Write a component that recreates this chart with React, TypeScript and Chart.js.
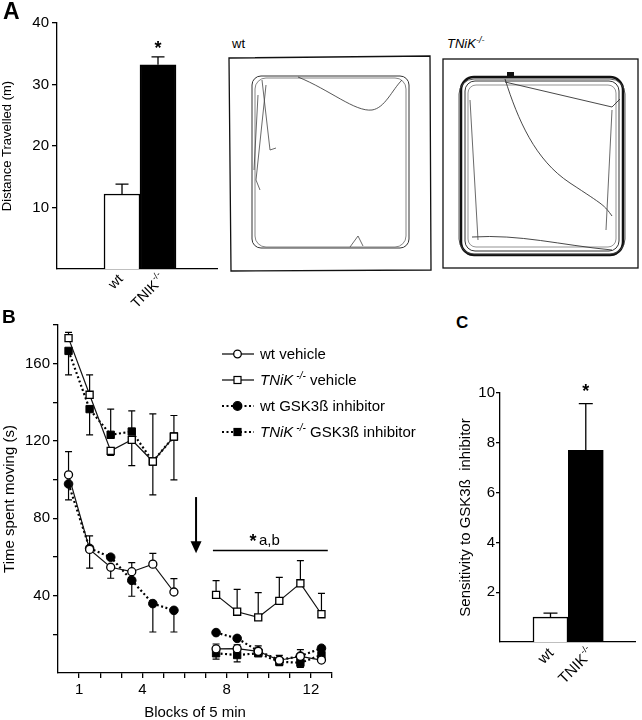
import React, { useEffect, useRef } from "react";
import { Chart, registerables } from "chart.js";

Chart.register(...registerables);

const FONT = "'Liberation Sans', Arial, Helvetica, sans-serif";

// ---------- Panel A : distance travelled ----------
const distanceGroups = ["wt", "TNIK"];
const distanceSup = ["", "-/-"];
const distanceMean = [12.2, 33.2];
const distanceSem = [1.6, 1.3];
const distanceTicks = [10, 20, 30, 40];

// ---------- Panel B : time spent moving ----------
const blockPos = [0.5, 1.5, 2.5, 3.5, 4.5, 5.5, 6.5, 7.5, 8.5, 9.5, 10.5, 11.5, 12.5];
const blockTickLabels = [1, 4, 8, 12];
const movingTickLabels = [40, 80, 120, 160];

const wtVehicle = [102.5, 63.9, 54.7, 52.4, 56.3, 41.9, null, 12.5, 12.6, 11.2, 6.6, 8.6, 6.7];
const wtVehicleUp = [12.0, 7.0, null, 4.7, 5.6, 6.9, null, 2.5, 2.0, 2.8, 2.5, 3.5, null];
const wtVehicleDown = [null, null, 5.7, null, null, null, null, null, null, null, null, null, null];

const tnikVehicle = [173.2, 143.9, 114.9, 120.6, 109.4, 122.3, null, 40.4, 31.7, 28.8, 37.3, 46.4, 30.4];
const tnikVehicleUp = [3.0, 10.3, null, null, 24.6, 10.9, null, 7.4, 11.6, 12.8, 12.2, 11.7, 10.8];
const tnikVehicleDown = [null, null, 2.4, 13.3, null, null, null, null, null, null, null, null, null];

const wtInhibitor = [97.8, 64.5, 59.9, 47.9, 35.9, 32.4, null, 20.9, 17.9, 11.4, 6.7, 8.8, 12.8];
const wtInhibitorUp = [null, null, null, null, null, null, null, null, null, null, null, null, null];
const wtInhibitorDown = [8.3, 10.3, null, 8.2, 14.7, 11.2, null, null, null, 2.0, null, null, null];

const tnikInhibitor = [166.6, 136.5, 123.2, 124.9, 109.4, 122.3, null, 10.2, 9.3, 10.2, 5.8, 5.3, 9.3];
const tnikInhibitorUp = [null, null, 13.3, 10.7, null, null, null, null, null, null, null, null, null];
const tnikInhibitorDown = [12.4, 13.3, null, null, 17.3, 22.4, null, 3.0, 3.5, null, 2.0, 2.4, null];

const treatmentArrow = { x: 6.55, from: 91, to: 62 };
const sigBar = { from: 7.35, to: 12.8, y: 63.3, star: 9.25, label: "a,b" };

// ---------- Panel C : sensitivity ----------
const sensGroups = ["wt", "TNIK"];
const sensSup = ["", "-/-"];
const sensMean = [1.0, 7.7];
const sensSem = [0.16, 1.87];
const sensTicks = [2, 4, 6, 8, 10];

function rotLabel(ctx: CanvasRenderingContext2D, x: number, y: number, main: string, sup: string, size: number) {
  ctx.save();
  ctx.translate(x, y);
  ctx.rotate(-Math.PI / 4);
  ctx.fillStyle = "#000";
  ctx.textBaseline = "middle";
  ctx.textAlign = "right";
  let end = 0;
  if (sup) {
    ctx.font = `${Math.round(size * 0.62)}px ${FONT}`;
    ctx.fillText(sup, 0, -size * 0.38);
    end = -ctx.measureText(sup).width - 0.5;
  }
  ctx.font = `${size}px ${FONT}`;
  ctx.fillText(main, end, 0);
  ctx.restore();
}

function barConfig(o: any): any {
  const extras = {
    id: "barExtras",
    afterDatasetsDraw(chart: any) {
      const { ctx, scales } = chart;
      const x = scales.x, y = scales.y;
      ctx.save();
      ctx.strokeStyle = "#000";
      ctx.lineWidth = 1.3;
      o.means.forEach((m: number, i: number) => {
        const px = x.getPixelForValue(i + 1);
        const y0 = y.getPixelForValue(m);
        const y1 = y.getPixelForValue(m + o.sems[i]);
        ctx.beginPath();
        ctx.moveTo(px, y0);
        ctx.lineTo(px, y1);
        ctx.moveTo(px - o.cap, y1);
        ctx.lineTo(px + o.cap, y1);
        ctx.stroke();
      });
      const last = o.means.length - 1;
      const sx = x.getPixelForValue(last + 1);
      const sy = y.getPixelForValue(o.means[last] + o.sems[last]) - o.starGap;
      ctx.fillStyle = "#000";
      ctx.font = `bold 18px ${FONT}`;
      ctx.textAlign = "center";
      ctx.textBaseline = "alphabetic";
      ctx.fillText("*", sx, sy);
      const base = y.getPixelForValue(0);
      o.labels.forEach((lab: string, i: number) => {
        rotLabel(ctx, x.getPixelForValue(i + 1) + o.labelDx[i], base + o.labelDy, lab, o.sups[i], o.labelSize);
      });
      ctx.restore();
    },
  };
  return {
    type: "bar",
    data: {
      datasets: [
        {
          data: o.means.map((v: number, i: number) => ({ x: i + 1, y: v })),
          backgroundColor: ["#ffffff", "#000000"],
          borderColor: "#000",
          borderWidth: 1.5,
          barThickness: o.barW,
        },
      ],
    },
    options: {
      animation: false,
      responsive: false,
      events: [],
      layout: { padding: { top: o.padTop, right: o.padRight, left: 0, bottom: 0 } },
      plugins: { legend: { display: false }, tooltip: { enabled: false } },
      scales: {
        x: {
          type: "linear",
          min: o.xMin,
          max: o.xMax,
          offset: false,
          grid: { display: false },
          border: { display: true, color: "#000", width: 1.3 },
          ticks: { display: false },
          afterFit: (s: any) => { s.height = o.xHeight; },
        },
        y: {
          type: "linear",
          min: 0,
          max: o.yMax,
          ticks: {
            stepSize: o.step,
            color: "#000",
            padding: o.tickPad,
            font: { size: o.tickSize },
            callback: (v: any) => (o.ticks.includes(v) ? String(v) : ""),
          },
          afterBuildTicks: (s: any) => { s.ticks = s.ticks.filter((t: any) => t.value !== 0); },
          grid: { drawOnChartArea: false, drawTicks: true, tickLength: o.tickLen, color: "#000", lineWidth: 1.3 },
          border: { display: true, color: "#000", width: 1.3 },
          title: {
            display: true,
            text: o.title,
            color: "#000",
            font: { size: o.titleSize, lineHeight: 1.2 },
            padding: { top: o.titlePad, bottom: 0 },
          },
          afterFit: (s: any) => { s.width = o.yWidth; },
        },
      },
    },
    plugins: [extras],
  };
}

function lineConfig(): any {
  const mk = (label: string, vals: (number | null)[], up: (number | null)[], down: (number | null)[], style: any) => ({
    label,
    data: blockPos.map((x, i) => ({ x, y: vals[i] })),
    errUp: up,
    errDown: down,
    ...style,
  });
  const solid = { borderColor: "#111", borderWidth: 1.2, pointBorderColor: "#000", pointBackgroundColor: "#fff", pointBorderWidth: 1.3 };
  const dotted = { borderColor: "#000", borderWidth: 2.2, borderDash: [2, 2.5], pointBorderColor: "#000", pointBackgroundColor: "#000", pointBorderWidth: 1 };
  const datasets = [
    mk("wt vehicle", wtVehicle, wtVehicleUp, wtVehicleDown, { ...solid, pointStyle: "circle", pointRadius: 4 }),
    mk("TNiK-/- vehicle", tnikVehicle, tnikVehicleUp, tnikVehicleDown, { ...solid, pointStyle: "rect", pointRadius: 5 }),
    mk("wt GSK3ß inhibitor", wtInhibitor, wtInhibitorUp, wtInhibitorDown, { ...dotted, pointStyle: "circle", pointRadius: 4.3 }),
    mk("TNiK-/- GSK3ß inhibitor", tnikInhibitor, tnikInhibitorUp, tnikInhibitorDown, { ...dotted, pointStyle: "rect", pointRadius: 5.2 }),
  ];
  const errPlugin = {
    id: "errBars",
    beforeDatasetsDraw(chart: any) {
      const { ctx, scales } = chart;
      const x = scales.x, y = scales.y;
      ctx.save();
      ctx.strokeStyle = "#000";
      ctx.lineWidth = 1.2;
      chart.data.datasets.forEach((ds: any) => {
        blockPos.forEach((bx, i) => {
          const v = ds.data[i].y;
          if (v == null) return;
          const px = x.getPixelForValue(bx);
          const p0 = y.getPixelForValue(v);
          [[ds.errUp[i], 1], [ds.errDown[i], -1]].forEach(([e, dir]) => {
            if (e == null) return;
            const p1 = y.getPixelForValue(v + dir * e);
            ctx.beginPath();
            ctx.moveTo(px, p0);
            ctx.lineTo(px, p1);
            ctx.moveTo(px - 3.5, p1);
            ctx.lineTo(px + 3.5, p1);
            ctx.stroke();
          });
        });
      });
      ctx.restore();
    },
    afterDatasetsDraw(chart: any) {
      const { ctx, scales } = chart;
      const x = scales.x, y = scales.y;
      ctx.save();
      ctx.strokeStyle = "#000";
      ctx.fillStyle = "#000";
      const ax = x.getPixelForValue(treatmentArrow.x);
      const a0 = y.getPixelForValue(treatmentArrow.from);
      const a1 = y.getPixelForValue(treatmentArrow.to);
      ctx.lineWidth = 2;
      ctx.beginPath();
      ctx.moveTo(ax, a0);
      ctx.lineTo(ax, a1 - 10);
      ctx.stroke();
      ctx.beginPath();
      ctx.moveTo(ax - 5.5, a1 - 12);
      ctx.lineTo(ax + 5.5, a1 - 12);
      ctx.lineTo(ax, a1);
      ctx.closePath();
      ctx.fill();
      const sy = y.getPixelForValue(sigBar.y);
      ctx.lineWidth = 1.5;
      ctx.beginPath();
      ctx.moveTo(x.getPixelForValue(sigBar.from), sy);
      ctx.lineTo(x.getPixelForValue(sigBar.to), sy);
      ctx.stroke();
      const stx = x.getPixelForValue(sigBar.star);
      ctx.textBaseline = "alphabetic";
      ctx.textAlign = "center";
      ctx.font = `bold 18px ${FONT}`;
      ctx.fillText("*", stx, sy - 4);
      ctx.textAlign = "left";
      ctx.font = `15px ${FONT}`;
      ctx.fillText(sigBar.label, stx + 6, sy - 6);
      ctx.restore();
    },
  };
  return {
    type: "line",
    data: { datasets },
    options: {
      animation: false,
      responsive: false,
      events: [],
      layout: { padding: { top: 25, right: 8, left: 0, bottom: 0 } },
      plugins: { legend: { display: false }, tooltip: { enabled: false } },
      scales: {
        x: {
          type: "linear",
          min: 0,
          max: 13,
          ticks: {
            stepSize: 1,
            color: "#000",
            padding: 3,
            font: { size: 15 },
            maxRotation: 0,
            autoSkip: false,
            callback: (v: any) => (blockTickLabels.includes(v) ? String(v) : ""),
          },
          afterBuildTicks: (s: any) => { s.ticks = s.ticks.filter((t: any) => t.value !== 0); },
          grid: { drawOnChartArea: false, drawTicks: true, tickLength: 5, color: "#000", lineWidth: 1.3 },
          border: { display: true, color: "#000", width: 1.3 },
          title: { display: true, text: "Blocks of 5 min", color: "#000", font: { size: 15, lineHeight: 1 }, padding: { top: 0, bottom: 0 } },
          afterFit: (s: any) => { s.height = 47; },
        },
        y: {
          type: "linear",
          min: 0,
          max: 180,
          ticks: {
            stepSize: 20,
            color: "#000",
            padding: 3,
            font: { size: 15 },
            callback: (v: any) => (movingTickLabels.includes(v) ? String(v) : ""),
          },
          afterBuildTicks: (s: any) => { s.ticks = s.ticks.filter((t: any) => t.value !== 0); },
          grid: { drawOnChartArea: false, drawTicks: true, tickLength: 5, color: "#000", lineWidth: 1.3 },
          border: { display: true, color: "#000", width: 1.3 },
          title: { display: true, text: "Time spent moving (s)", color: "#000", font: { size: 15, lineHeight: 1.2 }, padding: { top: 1, bottom: 0 } },
          afterFit: (s: any) => { s.width = 58; },
        },
      },
    },
    plugins: [errPlugin],
  };
}

const symbols = [
  { dash: false, shape: "circle", filled: false },
  { dash: false, shape: "rect", filled: false },
  { dash: true, shape: "circle", filled: true },
  { dash: true, shape: "rect", filled: true },
];

function Sym({ s }: { s: any }) {
  return (
    <svg width={34} height={14} style={{ position: "absolute", left: 221, top: 0 }}>
      <line x1={1} y1={7} x2={33} y2={7} stroke="#000" strokeWidth={s.dash ? 2 : 1.2} strokeDasharray={s.dash ? "2 2.5" : undefined} />
      {s.shape === "circle" ? (
        <circle cx={16.5} cy={7} r={s.filled ? 4.3 : 3.8} fill={s.filled ? "#000" : "#fff"} stroke="#000" strokeWidth={1.3} />
      ) : (
        <rect x={13} y={3.5} width={7} height={7} fill={s.filled ? "#000" : "#fff"} stroke="#000" strokeWidth={1.2} />
      )}
    </svg>
  );
}

const supStyle: React.CSSProperties = { fontSize: 10, marginLeft: 3, fontStyle: "italic", position: "relative", top: -6, lineHeight: 0 };

export default function App() {
  const refA = useRef<HTMLCanvasElement>(null);
  const refB = useRef<HTMLCanvasElement>(null);
  const refC = useRef<HTMLCanvasElement>(null);

  useEffect(() => {
    Chart.defaults.font.family = FONT;
    Chart.defaults.color = "#000";
    const a = new Chart(
      refA.current!,
      barConfig({
        means: distanceMean, sems: distanceSem, labels: distanceGroups, sups: distanceSup, ticks: distanceTicks,
        yMax: 40, step: 10, xMin: -0.806, xMax: 3.639, barW: 36, yWidth: 57, xHeight: 51, padTop: 23, padRight: 8,
        title: "Distance Travelled (m)", titleSize: 13, titlePad: 0, tickSize: 15, tickLen: 5, tickPad: 3,
        labelSize: 14, labelDx: [-1, 5], labelDy: 8, starGap: 3, cap: 6.5,
      })
    );
    const b = new Chart(refB.current!, lineConfig());
    const c = new Chart(
      refC.current!,
      barConfig({
        means: sensMean, sems: sensSem, labels: sensGroups, sups: sensSup, ticks: sensTicks,
        yMax: 10, step: 2, xMin: -0.43, xMax: 3.394, barW: 35, yWidth: 70, xHeight: 78, padTop: 23, padRight: 7,
        title: "Sensitivity to GSK3ß  inhibitor", titleSize: 15, titlePad: 26.5, tickSize: 15, tickLen: 4, tickPad: 1,
        labelSize: 15, labelDx: [1, 6], labelDy: 9, starGap: 7, cap: 7,
      })
    );
    return () => {
      a.destroy();
      b.destroy();
      c.destroy();
    };
  }, []);

  const legendRows = [
    <span>wt vehicle</span>,
    <span><i>TNiK</i><span style={supStyle}>-/-</span> vehicle</span>,
    <span>wt GSK3ß inhibitor</span>,
    <span><i>TNiK</i><span style={supStyle}>-/-</span> GSK3ß inhibitor</span>,
  ];
  const rowCenters = [353.5, 379.5, 405.5, 431.5];

  return (
    <div style={{ position: "fixed", left: 0, top: 0, width: 642, height: 720, background: "#fff", fontFamily: FONT, color: "#000", overflow: "hidden" }}>
      <svg width={642} height={300} style={{ position: "absolute", left: 0, top: 0 }}>
        <polygon points="229,58 430,56 431,270 231,271" fill="none" stroke="#111" strokeWidth={1.3} />
        <rect x={252} y={76} width={157} height={172} rx={9} fill="none" stroke="#333" strokeWidth={1} />
        <rect x={255} y={78} width={151} height={169} rx={11} fill="none" stroke="#666" strokeWidth={0.8} />
        <path d="M 298 77 C 330 90, 355 112, 372 110 C 385 108, 392 90, 402 80" fill="none" stroke="#444" strokeWidth={0.9} />
        <path d="M 262 80 L 270 150 L 276 148 M 258 95 L 254 170 M 266 85 L 256 180 L 260 190" fill="none" stroke="#444" strokeWidth={0.8} />
        <path d="M 350 247 L 358 236 L 363 246" fill="none" stroke="#444" strokeWidth={0.8} />
        <rect x={443} y={59} width={195} height={209} fill="none" stroke="#111" strokeWidth={1.3} />
        <rect x={461} y={77} width={162} height={178} rx={13} fill="none" stroke="#111" strokeWidth={2.5} />
        <rect x={465} y={81} width={154} height={170} rx={10} fill="none" stroke="#333" strokeWidth={1} />
        <rect x={459} y={79} width={166} height={175} rx={15} fill="none" stroke="#444" strokeWidth={0.9} />
        <rect x={468} y={85} width={148} height={162} rx={8} fill="none" stroke="#666" strokeWidth={0.7} />
        <path d="M 505 79 C 518 120, 535 160, 570 183 S 604 205, 612 216" fill="none" stroke="#333" strokeWidth={0.9} />
        <path d="M 505 82 L 612 107 L 620 99" fill="none" stroke="#333" strokeWidth={0.9} />
        <path d="M 472 237 C 520 234, 560 245, 612 250" fill="none" stroke="#333" strokeWidth={0.9} />
        <path d="M 470 100 L 478 240 M 612 110 L 606 230" fill="none" stroke="#444" strokeWidth={0.8} />
        <rect x={507} y={72} width={7} height={4} fill="#111" />
      </svg>
      <div style={{ position: "absolute", left: 232, top: 36, fontSize: 13 }}>wt</div>
      <div style={{ position: "absolute", left: 447, top: 36, fontSize: 13 }}>
        <i>TNiK</i><span style={{ fontSize: 9, fontStyle: "italic", position: "relative", top: -5, lineHeight: 0 }}>-/-</span>
      </div>

      <canvas ref={refA} width={225} height={320} style={{ position: "absolute", left: 0, top: 0, width: 225, height: 320 }} />
      <canvas ref={refB} width={340} height={420} style={{ position: "absolute", left: 0, top: 300, width: 340, height: 420 }} />
      <canvas ref={refC} width={212} height={350} style={{ position: "absolute", left: 430, top: 370, width: 212, height: 350 }} />

      {legendRows.map((r, i) => (
        <div key={i} style={{ position: "absolute", left: 0, top: rowCenters[i] - 7, height: 14, width: 460 }}>
          <Sym s={symbols[i]} />
          <div style={{ position: "absolute", left: 260, top: -3, fontSize: 15, lineHeight: "20px", whiteSpace: "nowrap" }}>{r}</div>
        </div>
      ))}

      <div style={{ position: "absolute", left: 3, top: -2, fontSize: 23, fontWeight: "bold" }}>A</div>
      <div style={{ position: "absolute", left: 2, top: 306, fontSize: 19, fontWeight: "bold" }}>B</div>
      <div style={{ position: "absolute", left: 456, top: 313, fontSize: 17, fontWeight: "bold" }}>C</div>
    </div>
  );
}
